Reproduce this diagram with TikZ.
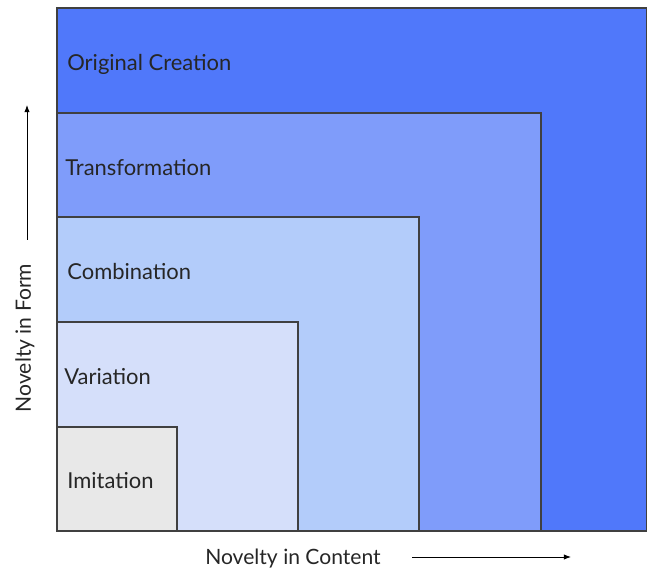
\documentclass[tikz,border=0pt]{standalone}
\usepackage{fontspec}
\setmainfont{Lato}
\usepackage{tikz}
\usetikzlibrary{arrows.meta}

\definecolor{creation}{RGB}{80,120,250}
\definecolor{transform}{RGB}{127,156,250}
\definecolor{combine}{RGB}{179,204,250}
\definecolor{vary}{RGB}{213,223,250}
\definecolor{imitate}{RGB}{232,232,232}

\tikzset{
	level/.style={draw=black!75, line width=0.6pt},
	levellabel/.style={anchor=west, inner sep=0pt, font=\fontsize{12.5}{15}\selectfont, text=black!85},
	axislabel/.style={font=\fontsize{12}{14}\selectfont, text=black!85},
	axisarrow/.style={-{Latex[length=4pt,width=3pt]}, line width=0.5pt}
}

\begin{document}
\begin{tikzpicture}[x=0.02cm, y=-0.02cm]
	\useasboundingbox (0,0) rectangle (647,573);

	% Draw boxes
	\draw[level, fill=creation] (57,8) rectangle (647,531);
	\draw[level, fill=transform] (57,113) rectangle (541,531);
	\draw[level, fill=combine] (57,217) rectangle (419,531);
	\draw[level, fill=vary] (57,322) rectangle (298,531);
	\draw[level, fill=imitate] (57,427) rectangle (177,531);

	% Box labels
	\node[levellabel] (creation) at (67,64) {Original Creation};
	\node[levellabel] (transform) at (65,168) {Transformation};
	\node[levellabel] (combine) at (67,272) {Combination};
	\node[levellabel] (vary) at (64,377) {Variation};
	\node[levellabel] (imitate) at (67,481) {Imitation};

	% Axes
	%Y
	\node[axislabel, rotate=90] (form) at (25,338) {Novelty in Form};
	\coordinate (formstart) at (27,240);
	\coordinate (formend) at (27,105);
	\draw[axisarrow] (formstart) -- (formend);
	%X
	\node[axislabel] (content) at (293,559) {Novelty in Content};
	\coordinate (contentstart) at (412,557);
	\coordinate (contentend) at (571,557);
	\draw[axisarrow] (contentstart) -- (contentend);
\end{tikzpicture}
\end{document}
